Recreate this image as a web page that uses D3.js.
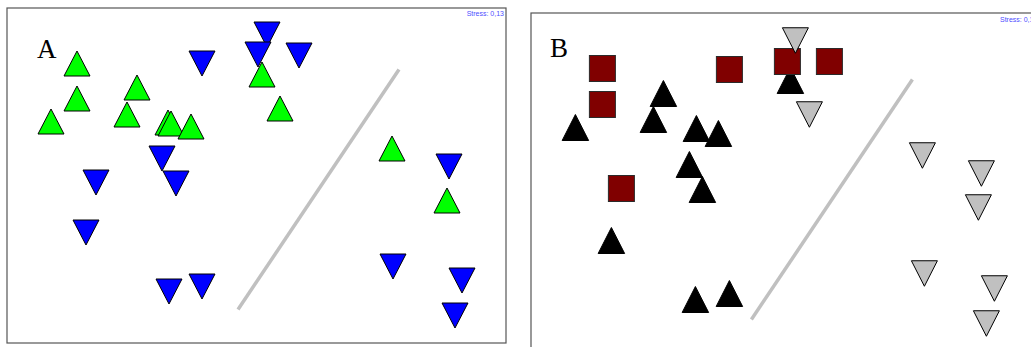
<!DOCTYPE html>
<html>
<head>
<meta charset="utf-8">
<script src="https://cdn.jsdelivr.net/npm/d3@7"></script>
<style>
  body { margin: 0; background: #fff; }
</style>
</head>
<body>
<div id="chart-area"></div>
<script>
// MDS coordinates (dim1, dim2)
var aUp = [[-1.80, 1.12], [-1.80, 0.77], [-2.06, 0.54], [-1.20, 0.88], [-1.30, 0.61],
           [-0.89, 0.53], [-0.86, 0.52], [-0.66, 0.49], [0.05, 1.01], [0.23, 0.67],
           [1.35, 0.27], [1.90, -0.25]];
var aDown = [[0.10, 1.41], [0.01, 1.21], [0.42, 1.20], [-0.55, 1.12], [-0.95, 0.17],
             [-0.81, -0.08], [-1.61, -0.07], [-1.71, -0.57], [-0.88, -1.16], [-0.55, -1.11],
             [1.92, 0.09], [1.36, -0.91], [2.05, -1.05], [1.98, -1.40]];

var bSquare = [[-1.68, 1.17], [-1.68, 0.81], [-0.41, 1.16], [0.17, 1.24], [0.59, 1.24], [-1.49, -0.03]];
var bUp = [[-1.07, 0.92], [-1.17, 0.66], [-1.95, 0.58], [-0.74, 0.57], [-0.52, 0.52],
           [-0.81, 0.21], [-0.68, -0.04], [-1.59, -0.55], [-0.75, -1.14], [-0.41, -1.08],
           [0.20, 1.05]];
var bDown = [[0.25, 1.45], [0.39, 0.71], [1.52, 0.30], [2.11, 0.12], [2.08, -0.22],
             [1.54, -0.88], [2.24, -1.03], [2.16, -1.38]];

var divider = [[-0.19, -1.34], [1.42, 1.06]];
var labels = ['A', 'B'];
var stress = ['Stress: 0,13', 'Stress: 0,13'];

document.addEventListener("DOMContentLoaded", function (event) {

  var svg = d3.select("#chart-area")
      .append("svg")
          .attr("width", 1031)
          .attr("height", 347);

  // triangle path centred on its bounding box
  function tri(w, h, up) {
    var p = d3.path();
    if (up) {
      p.moveTo(0, -h / 2); p.lineTo(w / 2, h / 2); p.lineTo(-w / 2, h / 2);
    } else {
      p.moveTo(-w / 2, -h / 2); p.lineTo(w / 2, -h / 2); p.lineTo(0, h / 2);
    }
    p.closePath();
    return p.toString();
  }

  function panel(cfg) {
    var x = d3.scaleLinear().domain([-2.5, 2.5]).range([cfg.cx - 250, cfg.cx + 250]);
    var y = d3.scaleLinear().domain([-1.675, 1.675]).range([cfg.cy + 167.5, cfg.cy - 167.5]);

    var g = svg.append('g');

    g.append('rect')
      .attr('x', cfg.frame[0]).attr('y', cfg.frame[1])
      .attr('width', cfg.frame[2]).attr('height', cfg.frame[3])
      .attr('fill', 'none')
      .attr('stroke', '#555')
      .attr('stroke-width', 1.2);

    g.append('text')
      .attr('x', cfg.stressPos[0]).attr('y', cfg.stressPos[1])
      .attr('text-anchor', cfg.stressAnchor)
      .attr('font-family', 'Liberation Sans, Arial, sans-serif')
      .attr('font-size', 7)
      .attr('fill', '#4d4dff')
      .text(cfg.stress);

    g.append('text')
      .attr('x', cfg.labelPos[0]).attr('y', cfg.labelPos[1])
      .attr('font-family', 'Liberation Serif, Times New Roman, serif')
      .attr('font-size', 27)
      .attr('fill', '#000')
      .text(cfg.label);

    g.append('line')
      .attr('x1', x(divider[0][0])).attr('y1', y(divider[0][1]))
      .attr('x2', x(divider[1][0])).attr('y2', y(divider[1][1]))
      .attr('stroke', '#c0c0c0')
      .attr('stroke-width', 3.5);

    cfg.layers.forEach(function (l) {
      if (l.shape === 'square') {
        g.selectAll(null).data(l.data).enter()
          .append('rect')
          .attr('x', d => x(d[0]) - l.size / 2)
          .attr('y', d => y(d[1]) - l.size / 2)
          .attr('width', l.size).attr('height', l.size)
          .attr('fill', l.fill)
          .attr('stroke', '#2a2a2a')
          .attr('stroke-width', 1);
      } else {
        g.selectAll(null).data(l.data).enter()
          .append('path')
          .attr('d', tri(l.w, l.h, l.shape === 'up'))
          .attr('transform', d => 'translate(' + x(d[0]) + ',' + y(d[1]) + ')')
          .attr('fill', l.fill)
          .attr('stroke', '#000')
          .attr('stroke-width', 1);
      }
    });
  }

  panel({
    cx: 257, cy: 175.5,
    frame: [7, 8, 499, 335],
    stress: stress[0], stressPos: [504, 16], stressAnchor: 'end',
    label: labels[0], labelPos: [37, 58],
    layers: [
      { shape: 'up', data: aUp, fill: '#00ff00', w: 26, h: 25 },
      { shape: 'down', data: aDown, fill: '#0000ff', w: 26, h: 25 }
    ]
  });

  panel({
    cx: 770.4, cy: 185.5,
    frame: [531, 13, 520, 345],
    stress: stress[1], stressPos: [1000, 22], stressAnchor: 'start',
    label: labels[1], labelPos: [550, 57],
    layers: [
      { shape: 'up', data: bUp, fill: '#000000', w: 26.5, h: 26 },
      { shape: 'square', data: bSquare, fill: '#800000', size: 26 },
      { shape: 'down', data: bDown, fill: '#c0c0c0', w: 26, h: 25.5 }
    ]
  });
});
</script>
</body>
</html>
